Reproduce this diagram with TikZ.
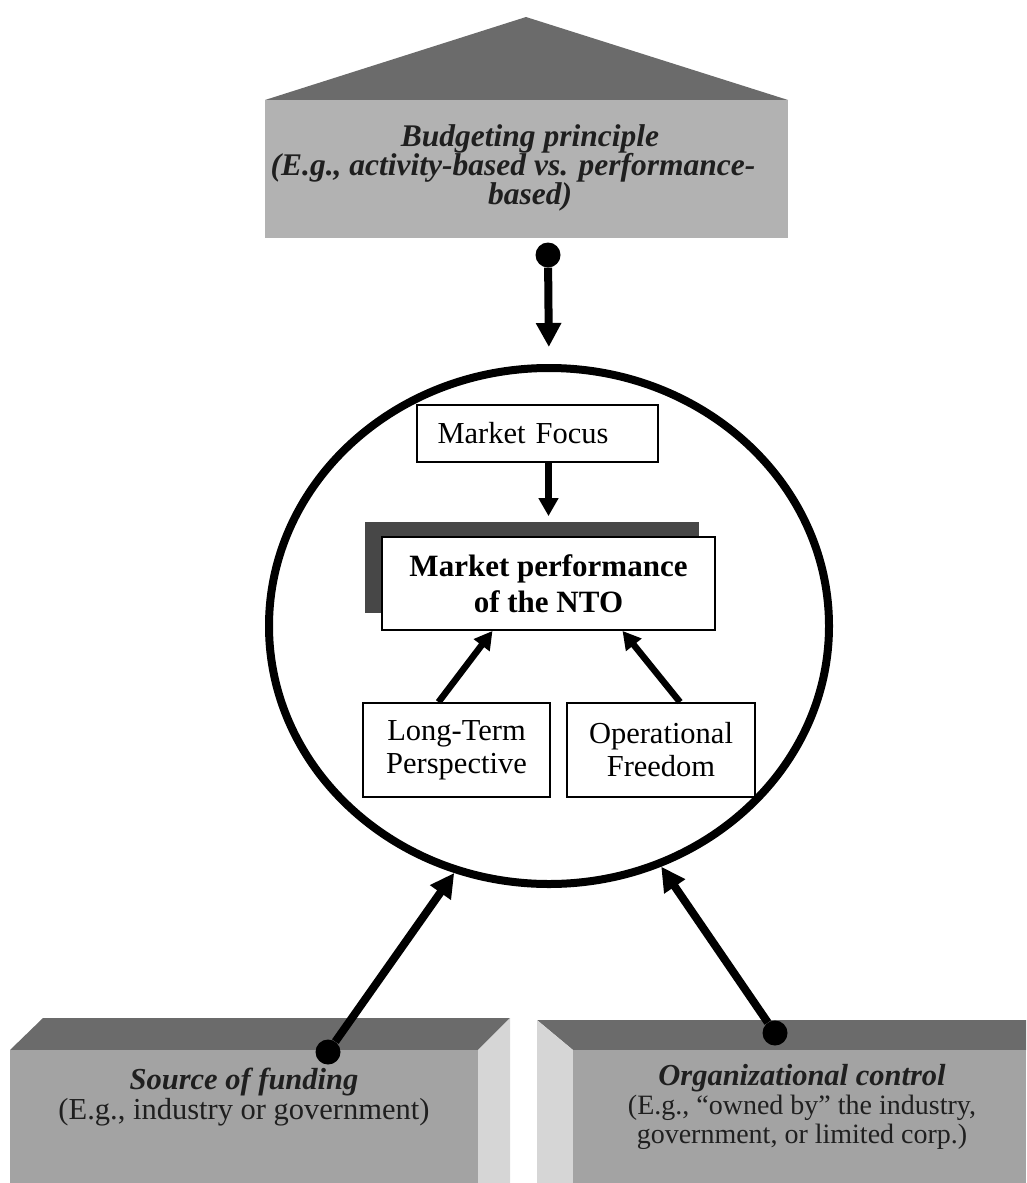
\documentclass[tikz,border=0pt]{standalone}
\usepackage{fontspec}
\setmainfont{Liberation Serif}
\usetikzlibrary{shapes.geometric,arrows.meta,calc}

\begin{document}
\begin{tikzpicture}[x=1pt,y=-1pt,
  every node/.style={font=\fontsize{30.5}{33}\selectfont},
  box/.style={draw, line width=1.8pt, fill=white, inner sep=0pt, align=center},
  bigarrow/.style={line width=8pt, -{Triangle[length=24pt,width=24pt]}},
  smallarrow/.style={line width=6.5pt, -{Triangle[length=18pt,width=19pt]}},
  dot/.style={circle, fill=black, inner sep=0pt, minimum size=25pt},
  greytext/.style={text=black!88, align=center, inner sep=0pt},
  roof/.style={fill=black!58},
  slab/.style={fill=black!30},
  front/.style={fill=black!36},
  side/.style={fill=black!16}
]
\useasboundingbox (0,0) rectangle (1026,1183);

% budgeting principle: roof and panel
\fill[roof] (265,100) -- (526,17) -- (788,100) -- cycle;
\fill[slab] (265,100) rectangle (788,238);
\node[greytext, font=\fontsize{31.5}{29}\selectfont\bfseries\itshape] (budget) at (530,168)
  {Budgeting principle\\
   \hspace*{-34pt}(E.g., activity-based vs. performance-\\
   based)};

% source of funding block
\fill[roof] (43,1018) -- (510,1018) -- (478,1050) -- (10,1050) -- cycle;
\fill[front] (10,1050) rectangle (478,1183);
\fill[side] (478,1050) -- (510,1018) -- (510,1183) -- (478,1183) -- cycle;
\node[greytext, font=\fontsize{30.5}{30}\selectfont] (funding) at (244,1097)
  {{\bfseries\itshape Source of funding}\\(E.g., industry or government)};

% organizational control block
\fill[roof] (537,1020) -- (1026,1020) -- (1026,1050) -- (573,1050) -- cycle;
\fill[side] (537,1020) -- (573,1050) -- (573,1183) -- (537,1183) -- cycle;
\fill[front] (573,1050) rectangle (1026,1183);
\node[greytext, font=\fontsize{28}{29}\selectfont] (control) at (802,1107)
  {{\fontsize{30.5}{29}\selectfont\bfseries\itshape Organizational control}\\
   (E.g., “owned by” the industry,\\government, or limited corp.)};

% the NTO
\node[ellipse, draw, line width=8pt, minimum width=560pt, minimum height=516pt,
      inner sep=0pt] (nto) at (549,626) {};

\node[box, minimum width=241pt, minimum height=57pt, text width=200pt,
      align=left, inner xsep=20pt] (focus) at (537.5,433.5) {Market Focus};

\fill[black!72] (365,522) rectangle (699,613);
\node[box, minimum width=333pt, minimum height=93pt,
      font=\fontsize{31}{36}\selectfont\bfseries] (perf) at (548.5,583.5)
  {Market performance\\of the NTO};

\node[box, minimum width=187pt, minimum height=94pt] (longterm) at (456.5,750)
  {Long-Term\\Perspective};
\node[box, minimum width=188pt, minimum height=94pt] (freedom) at (661,750)
  {Operational\\Freedom};

% dots where the influences start
\node[dot] (budgetdot) at (548,255) {};
\node[dot] (fundingdot) at (328,1052) {};
\node[dot] (controldot) at (775,1033) {};

% connectors
\draw[bigarrow, shorten >=17pt] (budgetdot) -- (nto.north);
\draw[bigarrow] (fundingdot) -- (nto.249);
\draw[bigarrow] (controldot) -- (nto.295);

\draw[smallarrow, shorten >=20pt] (perf.north |- focus.south) -- (perf.north);
\draw[smallarrow] ([xshift=-18pt]longterm.north) -- ([xshift=-56pt]perf.south);
\draw[smallarrow] ([xshift=19pt]freedom.north) -- ([xshift=74pt]perf.south);
\end{tikzpicture}
\end{document}
